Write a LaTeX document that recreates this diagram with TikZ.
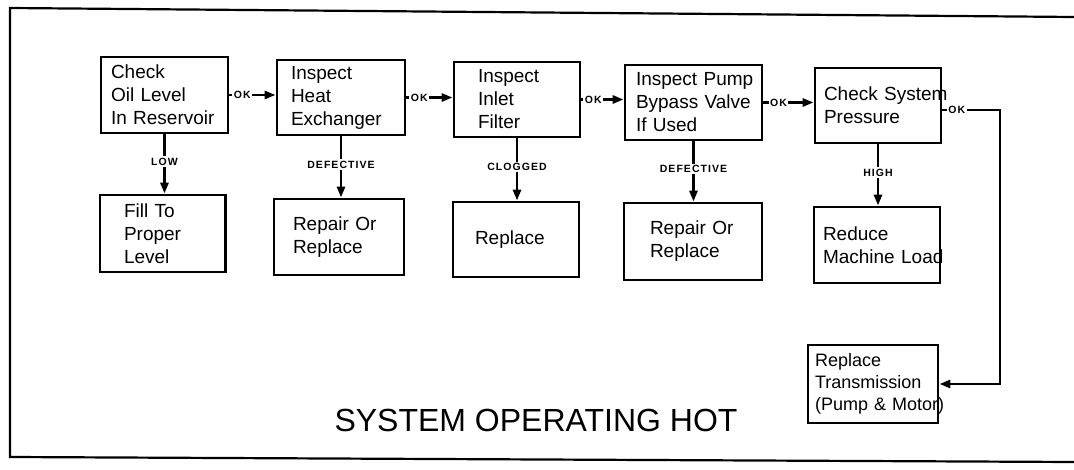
\documentclass[tikz,border=0pt]{standalone}
\usepackage{fontspec}
\setmainfont{Liberation Sans}
\usetikzlibrary{arrows.meta}
\tikzset{
  bx/.style n args={3}{draw, line width=2.8pt, text width=#1, inner xsep=#2, inner ysep=0pt,
    minimum height=#3, align=left, font=\fontsize{19}{23}\selectfont},
  arr/.style={line width=2.8pt, -{Triangle[length=11pt,width=8pt]}},
  lbl/.style={fill=white, inner sep=1.5pt, font=\bfseries\fontsize{10.5}{12}\selectfont\addfontfeatures{LetterSpace=10}},
  frame/.style={line width=2.2pt}
}
\begin{document}
\begin{tikzpicture}[x=1pt,y=-1pt]
\useasboundingbox (0,0) rectangle (1074,470);
% frame
\coordinate (ftr) at (1074,17);
\coordinate (ftl) at (10,8);
\coordinate (fbl) at (10,457);
\coordinate (fbr) at (1074,462);
\draw[frame] (ftr) -- (ftl) -- (fbl) -- (fbr);
% top row
\node[bx={107pt}{10pt}{76pt}] (b1) at (164.5,95) {\mbox{Check}\\\mbox{Oil Level}\\\mbox{In Reservoir}};
\node[bx={100pt}{14pt}{75pt}] (b2) at (341,97.5) {\mbox{Inspect}\\\mbox{Heat}\\\mbox{Exchanger}};
\node[bx={78pt}{24pt}{75pt}] (b3) at (517,99.5) {\mbox{Inspect}\\\mbox{Inlet}\\\mbox{Filter}};
\node[bx={115pt}{11pt}{75pt}] (b4) at (693.5,102.5) {\mbox{Inspect Pump}\\\mbox{Bypass Valve}\\\mbox{If Used}};
\node[bx={108pt}{9pt}{75pt}] (b5) at (878,105.5) {\mbox{Check System}\\\mbox{Pressure}};
% bottom row
\node[bx={77.5pt}{24pt}{77pt}] (c1) at (162.75,233.5) {\mbox{Fill To}\\\mbox{Proper}\\\mbox{Level}};
\node[bx={92pt}{19pt}{76pt}] (c2) at (339,237) {\mbox{Repair Or}\\\mbox{Replace}};
\node[bx={82pt}{22pt}{75pt}] (c3) at (516,239.5) {\mbox{Replace}};
\node[bx={86pt}{26pt}{77pt}] (c4) at (693,241.5) {\mbox{Repair Or}\\\mbox{Replace}};
\node[bx={108pt}{9pt}{76pt}] (c5) at (877,245) {\mbox{Reduce}\\\mbox{Machine Load}};
\node[bx={116pt}{7pt}{78pt}, font=\fontsize{18}{22}\selectfont] (c6) at (873,384) {\mbox{Replace}\\\mbox{Transmission}\\\mbox{(Pump \& Motor)}};
% horizontal connectors
\draw[arr] (b1.east) -- node[lbl, pos=0.28]{OK} (b1.east -| b2.west);
\draw[arr] (b2.east) -- node[lbl, pos=0.28]{OK} (b2.east -| b3.west);
\draw[arr] (b3.east) -- node[lbl, pos=0.28]{OK} (b3.east -| b4.west);
\draw[arr] (b4.east) -- node[lbl, pos=0.3]{OK} (b4.east -| b5.west);
% vertical connectors
\draw[arr] (b1.south) -- node[lbl, pos=0.46]{LOW} (b1.south |- c1.north);
\draw[arr] (b2.south) -- node[lbl, pos=0.46]{DEFECTIVE} (b2.south |- c2.north);
\draw[arr] (b3.south) -- node[lbl, pos=0.46]{CLOGGED} (b3.south |- c3.north);
\draw[arr] (b4.south) -- node[lbl, pos=0.46]{DEFECTIVE} (b4.south |- c4.north);
\draw[arr] (b5.south) -- node[lbl, pos=0.46]{HIGH} (b5.south |- c5.north);
% OK to replace transmission
\coordinate (turn) at (1000,110);
\draw[arr] (b5.east |- turn) -- node[lbl, pos=0.25]{OK} (turn) |- (c6.east);
% title
\node[font=\fontsize{32}{38}\selectfont] (title) at (536,420) {SYSTEM OPERATING HOT};
\end{tikzpicture}
\end{document}
